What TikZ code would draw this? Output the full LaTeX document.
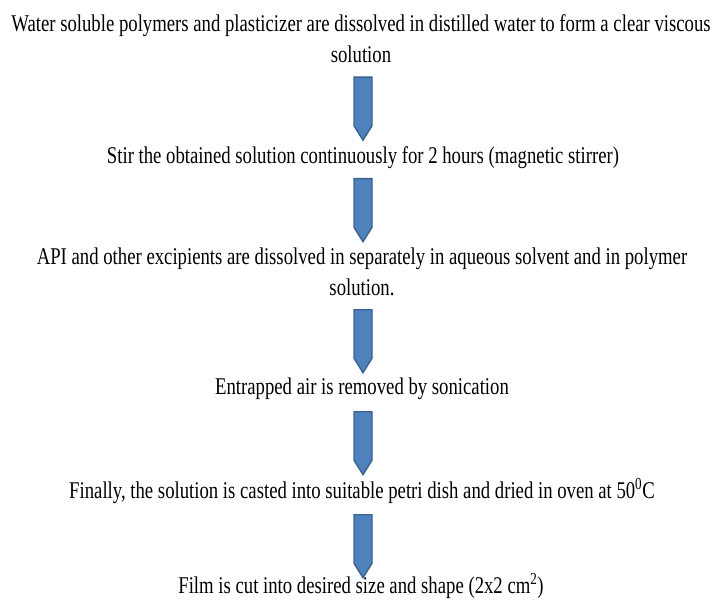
\documentclass[tikz,border=0pt]{standalone}
\usepackage{fontspec}
\setmainfont{Liberation Serif}[FakeStretch=0.78]
\usetikzlibrary{shapes.arrows}
\definecolor{arrfill}{HTML}{4F81BD}
\definecolor{arrline}{HTML}{3A6391}
\begin{document}
\begin{tikzpicture}[x=1pt,y=-1pt,
  steptext/.style={font=\fontsize{24}{31}\selectfont, align=center, inner sep=0pt, anchor=center},
  downarrow/.style={single arrow, single arrow head extend=0pt, single arrow tip angle=64,
    shape border rotate=270, minimum width=18pt, minimum height=63pt, inner sep=0pt,
    fill=arrfill, draw=arrline, line width=1.4pt}]
\useasboundingbox (0,0) rectangle (717,601);
\node[steptext] (t1) at (361,39) {Water soluble polymers and plasticizer are dissolved in distilled water to form a clear viscous\\solution};
\node[downarrow] (a1) at (363,101.5) {};
\node[steptext] (t2) at (363,158) {Stir the obtained solution continuously for 2 hours (magnetic stirrer)};
\node[downarrow] (a2) at (363,203) {};
\node[steptext] (t3) at (362,272) {API and other excipients are dissolved in separately in aqueous solvent and in polymer\\solution.};
\node[downarrow] (a3) at (363,334) {};
\node[steptext] (t4) at (362,389) {Entrapped air is removed by sonication};
\node[downarrow] (a4) at (363,436) {};
\node[steptext] (t5) at (362,491) {Finally, the solution is casted into suitable petri dish and dried in oven at 50\textsuperscript{0}C};
\node[downarrow] (a5) at (363,539) {};
\node[steptext] (t6) at (361,586) {Film is cut into desired size and shape (2x2 cm\textsuperscript{2})};
\end{tikzpicture}
\end{document}
